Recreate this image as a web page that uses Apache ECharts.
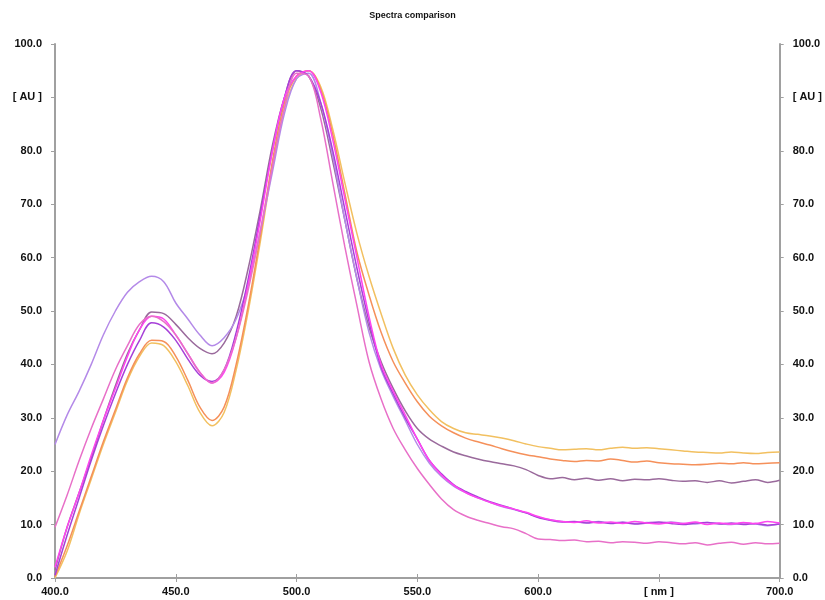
<!DOCTYPE html>
<html>
<head>
<meta charset="utf-8">
<script src="https://cdn.jsdelivr.net/npm/echarts@6/dist/echarts.min.js"></script>
<style>html,body{margin:0;padding:0;background:#fff}#c{width:825px;height:600px}</style>
</head>
<body>
<div id="c"></div>
<script>
// Wavelengths (nm), 5 nm steps from 400 to 700
var wavelengths = [];
for (var w = 400; w <= 700; w += 5) wavelengths.push(w);

var xTickLabels = {400:'400.0',450:'450.0',500:'500.0',550:'550.0',600:'600.0',650:'[ nm ]',700:'700.0'};
var yTickLabels = {0:'0.0',10:'10.0',20:'20.0',30:'30.0',40:'40.0',50:'50.0',60:'60.0',70:'70.0',80:'80.0',90:'[ AU ]',100:'100.0'};

var lavender = [25,30.5,35,40,45.5,50,53.5,55.5,56.5,55.5,51.5,48.5,45.5,43.5,45,48.5,55,65,76,87,93.5,94.5,89,79,67,56,46,39,34,29.5,25,21.5,19,17.2,16,15,14.2,13.4,12.8,12.2,11.4,10.9,10.6,10.5,10.4,10.6,10.3,10.5,10.2,10.4,10.3,10.5,10.2,10.1,10.4,10.2,10.0,10.3,10.1,9.8,10.2];
var mauve = [1.5,9.5,16,22.5,29.5,36,42,46.5,49.8,49.5,47.5,45,43,42,44,49,58,69,81,90,95,94,88,78,67,56,47,40.5,35.5,31.3,28,26,24.7,23.6,22.9,22.3,21.8,21.4,21,20.3,19.2,18.6,18.8,18.4,18.7,18.3,18.6,18.2,18.5,18.4,18.6,18.3,18.1,18.2,17.9,18.2,17.8,18.1,18.4,17.9,18.3];
var pink = [9.5,15.5,22,28,33.5,39,43.5,47.5,49,48,45.5,42,38.5,36.5,39,45,54,65,77,88,94.5,94,86,74,62,51,40.5,33.5,28,24,20.5,17.5,14.8,12.8,11.6,10.8,10.2,9.6,9.2,8.3,7.3,7.2,7.0,7.1,6.8,6.9,6.6,6.8,6.7,6.5,6.8,6.6,6.4,6.6,6.2,6.5,6.7,6.3,6.6,6.4,6.5];
var magenta = [2,9.5,16,23,29.5,35.5,41.5,46.5,49,48.5,45.5,42,38.5,36.5,38.5,45,55,67,80,90,94,95,91,82,71,60,49,40,35,30.5,26,22,19.3,17.4,16,15,14.2,13.5,12.9,12.3,11.5,10.9,10.6,10.4,10.7,10.3,10.5,10.2,10.6,10.3,10.1,10.4,10.2,10.5,10.0,10.3,10.1,10.4,10.2,10.6,10.3];
var purple = [0.5,8,15,22,28.5,34.5,40,44.5,47.8,47,44.5,41,38,36.8,39,46,56,68,80,90,95,94,89,80,69,58,48,39.5,34.5,30,26,22,19.5,17.5,16.2,15.2,14.3,13.6,12.9,12.2,11.3,10.8,10.5,10.6,10.3,10.5,10.2,10.4,10.1,10.3,10.5,10.2,10.0,10.3,10.4,10.1,10.3,10.0,10.2,9.9,10.1];
var orange = [0.3,6,12.5,19,25.5,31.5,37.5,42,44.5,44.3,41.5,37,32,29.5,32,40,51,64,78,89,94,95,91.5,83,72,61,53,46,40.5,36.5,33,30.3,28.5,27.2,26.2,25.5,24.9,24.2,23.6,23.1,22.7,22.3,22,21.8,22,21.9,22.3,22,21.7,21.9,21.6,21.4,21.3,21.2,21.3,21.5,21.4,21.6,21.4,21.5,21.6];
var yellow = [0,5,12,18.5,25,31,37,41.5,44,43.5,40.5,36,31,28.5,31,39,50,63,77,88,93.5,95,92,84,74,64.5,56.5,49.5,43,38,34.3,31.5,29.3,28,27.2,26.9,26.6,26.2,25.7,25.1,24.6,24.3,24,24.1,24.2,24,24.3,24.5,24.3,24.4,24.2,24,23.8,23.6,23.5,23.4,23.6,23.4,23.3,23.5,23.6];

var seriesDefs = [
  {name:'yellow', data:yellow, color:'#f2c060'},
  {name:'orange', data:orange, color:'#f5905a'},
  {name:'mauve', data:mauve, color:'#9a6a9c'},
  {name:'lavender', data:lavender, color:'#b48ae8'},
  {name:'purple', data:purple, color:'#a640d8'},
  {name:'magenta', data:magenta, color:'#ff44f0'},
  {name:'pink', data:pink, color:'#e870c8'}
];

function pairs(arr){ return wavelengths.map(function(w,i){ return [w, arr[i]]; }); }

var labelStyle = {color:'#111', fontFamily:'Liberation Sans, Arial, sans-serif', fontSize:11, fontWeight:'bold'};
var axisLineStyle = {lineStyle:{color:'#a0a0a0', width:2}};
var tickStyle = {show:true, length:4, lineStyle:{color:'#a0a0a0'}};

var chart = echarts.init(document.getElementById('c'), null, {renderer:'canvas'});
chart.setOption({
  animation:false,
  backgroundColor:'#ffffff',
  title:{text:'Spectra comparison', left:'center', top:6,
    textStyle:{fontFamily:'Liberation Sans, Arial, sans-serif', fontSize:9, fontWeight:'bold', color:'#111'}},
  grid:{left:55, right:44, top:44, bottom:22},
  xAxis:[
    {type:'value', position:'bottom', min:400, max:700, interval:50,
     axisLine:axisLineStyle, axisTick:tickStyle, splitLine:{show:false},
     axisLabel:Object.assign({margin:8, formatter:function(v){return xTickLabels[v]||'';}}, labelStyle)},
    {type:'value', position:'top', min:400, max:700, interval:50,
     axisLine:axisLineStyle, axisTick:tickStyle, splitLine:{show:false}, axisLabel:{show:false}}
  ],
  yAxis:[
    {type:'value', position:'left', min:0, max:100, interval:10,
     axisLine:Object.assign({show:true}, axisLineStyle), axisTick:tickStyle, splitLine:{show:false},
     axisLabel:Object.assign({margin:13, formatter:function(v){return yTickLabels[v]||'';}}, labelStyle)},
    {type:'value', position:'right', min:0, max:100, interval:10,
     axisLine:Object.assign({show:true}, axisLineStyle), axisTick:tickStyle, splitLine:{show:false},
     axisLabel:Object.assign({margin:13, formatter:function(v){return yTickLabels[v]||'';}}, labelStyle)}
  ],
  series: seriesDefs.map(function(s){
    return {name:s.name, type:'line', xAxisIndex:0, yAxisIndex:0, data:pairs(s.data),
      showSymbol:false, smooth:0.35, lineStyle:{color:s.color, width:1.5}, itemStyle:{color:s.color}};
  })
});
</script>
</body>
</html>
